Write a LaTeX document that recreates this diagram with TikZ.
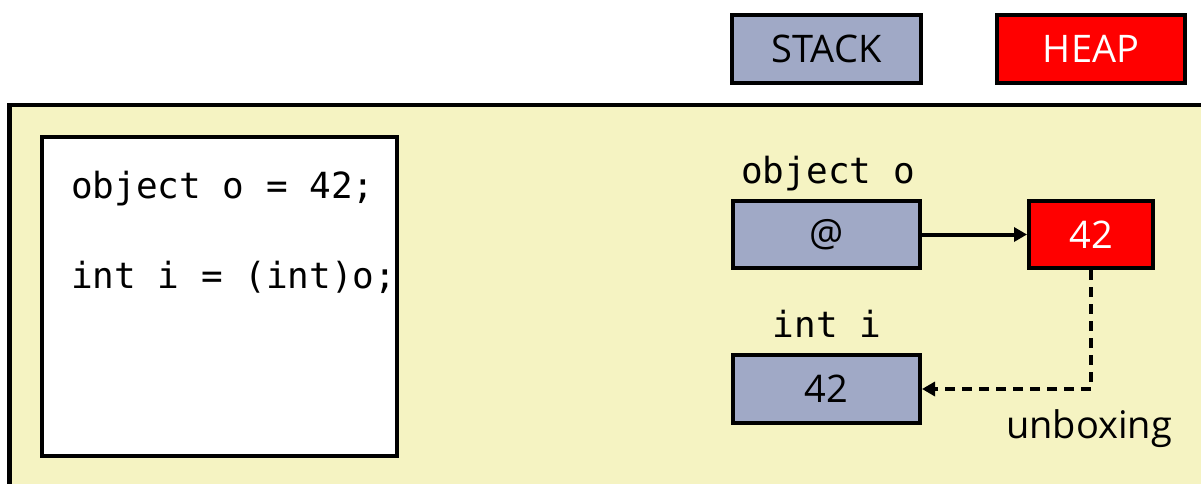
\documentclass[tikz,border=0pt]{standalone}
\usepackage{fontspec}
\setmainfont{Open Sans}
\newfontfamily\codefont{DejaVu Sans Mono}
\usetikzlibrary{arrows.meta}
\definecolor{stackblue}{HTML}{A0A9C6}
\definecolor{panelyellow}{HTML}{F5F3C2}
\definecolor{heapred}{HTML}{FF0000}
\tikzset{
  box/.style={draw=black, line width=4pt, inner sep=0pt},
  stackbox/.style={box, fill=stackblue, text=black},
  heapbox/.style={box, fill=heapred, text=white},
  sanslabel/.style={font=\fontsize{38}{44}\selectfont},
  codetext/.style={font=\codefont\fontsize{36}{42}\selectfont, inner sep=0pt, anchor=base west},
  codelabel/.style={font=\codefont\fontsize{36}{42}\selectfont, inner sep=0pt, anchor=base},
  conn/.style={line width=4pt, -{Triangle[length=13pt,width=14pt]}},
}
\begin{document}
\begin{tikzpicture}[x=1pt,y=-1pt]
\useasboundingbox (0,0) rectangle (1201,484);
\fill[white] (0,0) rectangle (1201,484);
\begin{scope}
\clip (0,0) rectangle (1201,484);
\draw[line width=4.5pt, fill=panelyellow] (9.5,105) rectangle (1220,520);
\end{scope}
% legend
\node[stackbox, sanslabel, minimum width=189pt, minimum height=68pt] (stack) at (826.5,49) {STACK};
\node[heapbox, sanslabel, minimum width=188pt, minimum height=68pt] (heap) at (1091,49) {HEAP};
% code box
\node[box, fill=white, minimum width=355pt, minimum height=319pt] (code) at (219.5,296.5) {};
\node[codetext] (l1) at (71,198) {object o = 42;};
\node[codetext] (l2) at (71,288) {int i = (int)o;};
% variables
\node[codelabel] (lobj) at (828,183) {object o};
\node[stackbox, sanslabel, minimum width=187pt, minimum height=67pt] (ref) at (826.5,234.5) {@};
\node[heapbox, sanslabel, minimum width=124pt, minimum height=67pt] (h42) at (1091,234.5) {42};
\node[codelabel] (lint) at (827,337) {int i};
\node[stackbox, sanslabel, minimum width=187pt, minimum height=68pt] (i42) at (826.5,389) {42};
\node[sanslabel, inner sep=0pt, anchor=base] (unbox) at (1089,438) {unboxing};
% connectors
\draw[conn] (ref.east) -- (h42.west);
\draw[conn, dash pattern=on 10pt off 7pt] (h42.south) |- (i42.east);
\end{tikzpicture}
\end{document}
